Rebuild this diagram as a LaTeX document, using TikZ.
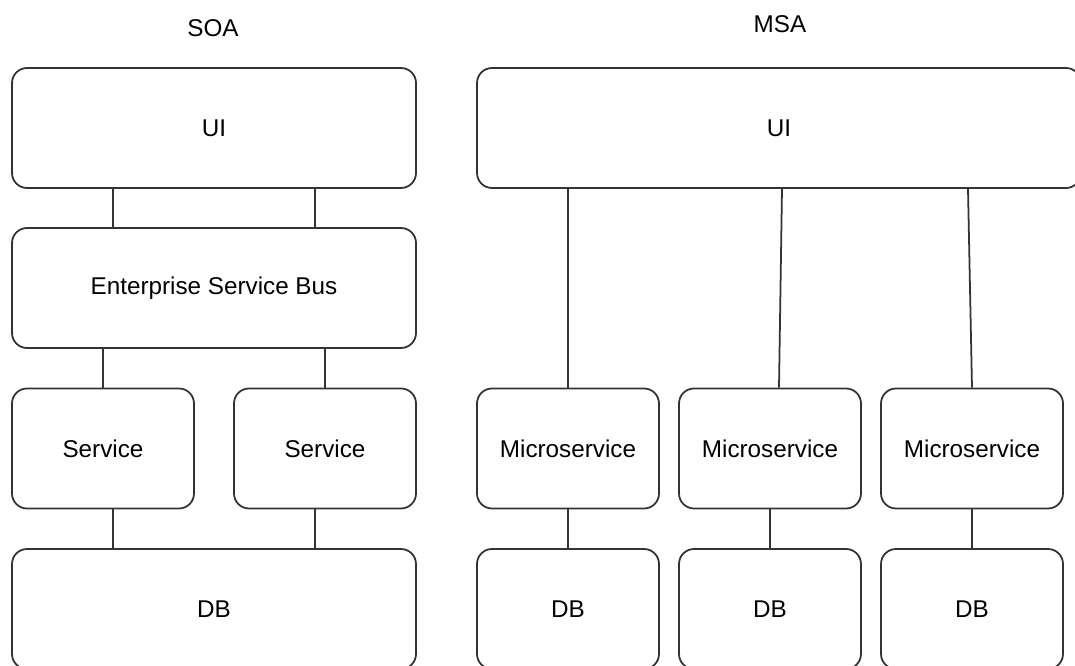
\documentclass[tikz,border=0pt]{standalone}
\usepackage{fontspec}
\setmainfont{Liberation Sans}
\usepackage{tikz}
\usetikzlibrary{positioning}

\tikzset{
    box/.style={draw=black!80, line width=1pt, rectangle, rounded corners=0.3cm, align=center,
        minimum height=2.4cm, font=\fontsize{13.8}{16}\selectfont},
    wide/.style={box, minimum width=8.08cm},
    small/.style={box, minimum width=3.64cm},
    link/.style={draw=black!80, line width=1pt}
}

\begin{document}
\begin{tikzpicture}
            \clip (0,0) rectangle (21.5,-13.32);

            % SOA side
            \node[font=\fontsize{13.8}{16}\selectfont] (soa) at (4.26,-0.56) {SOA};
            \node[wide] (soaui) at (4.28,-2.56) {UI};
            \node[wide] (esb) at (4.28,-5.76) {Enterprise Service Bus};
            \node[small] (svc1) at (2.06,-8.97) {Service};
            \node[small] (svc2) at (6.5,-8.97) {Service};
            \node[wide] (soadb) at (4.28,-12.18) {DB};

            \draw[link] ([xshift=-2.02cm]soaui.south) -- ([xshift=-2.02cm]esb.north);
            \draw[link] ([xshift=2.02cm]soaui.south) -- ([xshift=2.02cm]esb.north);
            \draw[link] (svc1.north |- esb.south) -- (svc1.north);
            \draw[link] (svc2.north |- esb.south) -- (svc2.north);
            \draw[link] ([xshift=0.2cm]svc1.south) -- ([xshift=0.2cm]svc1.south |- soadb.north);
            \draw[link] ([xshift=-0.2cm]svc2.south) -- ([xshift=-0.2cm]svc2.south |- soadb.north);

            % MSA side
            \node[font=\fontsize{13.8}{16}\selectfont] (msa) at (15.6,-0.48) {MSA};
            \node[box, minimum width=12.08cm] (msaui) at (15.58,-2.56) {UI};
            \node[small] (ms1) at (11.36,-8.97) {Microservice};
            \node[small] (ms2) at (15.4,-8.97) {Microservice};
            \node[small] (ms3) at (19.44,-8.97) {Microservice};
            \node[small] (msdb1) at (11.36,-12.18) {DB};
            \node[small] (msdb2) at (15.4,-12.18) {DB};
            \node[small] (msdb3) at (19.44,-12.18) {DB};

            \draw[link] (ms1.north |- msaui.south) -- (ms1.north);
            \draw[link] ([xshift=0.24cm]ms2.north |- msaui.south) -- ([xshift=0.18cm]ms2.north);
            \draw[link] ([xshift=-0.08cm]ms3.north |- msaui.south) -- (ms3.north);
            \draw[link] (ms1) -- (msdb1);
            \draw[link] (ms2) -- (msdb2);
            \draw[link] (ms3) -- (msdb3);
        \end{tikzpicture}
\end{document}
